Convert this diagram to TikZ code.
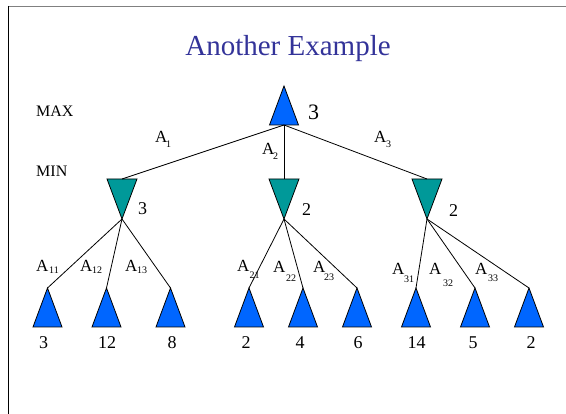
\documentclass[tikz,border=0pt]{standalone}
\usepackage{fontspec}
\setmainfont{Liberation Serif}
\definecolor{maxblue}{HTML}{0066FF}
\definecolor{minteal}{HTML}{009999}
\definecolor{titleblue}{HTML}{333399}
\begin{document}
\begin{tikzpicture}[x=1pt,y=-1pt,
  tri/.style={draw=black,line width=0.8pt,line join=miter},
  maxtri/.style={tri,fill=maxblue},
  mintri/.style={tri,fill=minteal},
  conn/.style={draw=black,line width=0.8pt},
  lbl/.style={inner sep=0pt,anchor=base west,font=\fontsize{17}{20}\selectfont},
  subl/.style={inner sep=0pt,anchor=base west,font=\fontsize{10}{12}\selectfont},
  lvl/.style={inner sep=0pt,anchor=base west,font=\fontsize{16}{19}\selectfont},
  val/.style={inner sep=0pt,anchor=base,font=\fontsize{18}{22}\selectfont},
]
\useasboundingbox (0,0) rectangle (566,414);
% frame
\draw[line width=1.3pt,draw=gray] (8,6.5) -- (566,6.5);
\draw[line width=1pt,draw=black] (8.6,6) -- (8.6,414);
% title
\node[inner sep=0pt,anchor=base,text=titleblue,font=\fontsize{29}{34}\selectfont] (title) at (288,56) {Another Example};
% level labels
\node[lvl] (maxl) at (36,117) {MAX};
\node[lvl] (minl) at (36,177) {MIN};
% root
\draw[maxtri] (284,86) -- (298.5,125) -- (269.5,125) -- cycle;
\coordinate (r) at (284,125);
\node[inner sep=0pt,anchor=base west,font=\fontsize{22}{26}\selectfont] (rv) at (308,120) {3};
% MIN nodes
\foreach \i/\x in {1/122,2/284,3/427}{
  \draw[mintri] (\x-15,179) -- (\x+15,179) -- (\x,219) -- cycle;
  \coordinate (m\i t) at (\x,179);
  \coordinate (m\i b) at (\x,219);
}
\node[val,anchor=base west] (m1v) at (138,215) {3};
\node[val,anchor=base west] (m2v) at (302,216) {2};
\node[val,anchor=base west] (m3v) at (449,217) {2};
% leaves
\foreach \i/\x in {1/47.5,2/106.5,3/170.5,4/249,5/303,6/357,7/416,8/475,9/529}{
  \draw[maxtri] (\x,288) -- (\x+14.5,327) -- (\x-14.5,327) -- cycle;
  \coordinate (l\i) at (\x,288);
}
\foreach \i/\x/\v in {1/43.5/3,2/107/12,3/172/8,4/246/2,5/300/4,6/358/6,7/416.5/14,8/473/5,9/531/2}{
  \node[val] (lv\i) at (\x,349) {\v};
}
% connectors
\draw[conn] (r) -- (m1t);
\draw[conn] (r) -- (m2t);
\draw[conn] (r) -- (m3t);
\draw[conn] (m1b) -- (l1);
\draw[conn] (m1b) -- (l2);
\draw[conn] (m1b) -- (l3);
\draw[conn] (m2b) -- (l4);
\draw[conn] (m2b) -- (l5);
\draw[conn] (m2b) -- (l6);
\draw[conn] (m3b) -- (l7);
\draw[conn] (m3b) -- (l8);
\draw[conn] (m3b) -- (l9);
% edge labels
\node[lbl] (a1) at (155,143) {A};  \node[subl] (a1s) at (166,148) {1};
\node[lbl] (a2) at (262,155) {A};  \node[subl] (a2s) at (273,160) {2};
\node[lbl] (a3) at (374,143) {A};  \node[subl] (a3s) at (386,148) {3};
\node[lbl] (a11) at (36,272) {A};  \node[subl] (a11s) at (49,274) {11};
\node[lbl] (a12) at (80,272) {A};  \node[subl] (a12s) at (92,274) {12};
\node[lbl] (a13) at (125,272) {A}; \node[subl] (a13s) at (137,274) {13};
\node[lbl] (a21) at (237,272) {A}; \node[subl] (a21s) at (249.5,279) {21};
\node[lbl] (a22) at (273,273) {A}; \node[subl] (a22s) at (286,282) {22};
\node[lbl] (a23) at (313,273) {A}; \node[subl] (a23s) at (324,281) {23};
\node[lbl] (a31) at (392,275) {A}; \node[subl] (a31s) at (404,283) {31};
\node[lbl] (a32) at (429,275) {A}; \node[subl] (a32s) at (443,287) {32};
\node[lbl] (a33) at (475,275) {A}; \node[subl] (a33s) at (488,282) {33};
\end{tikzpicture}
\end{document}
